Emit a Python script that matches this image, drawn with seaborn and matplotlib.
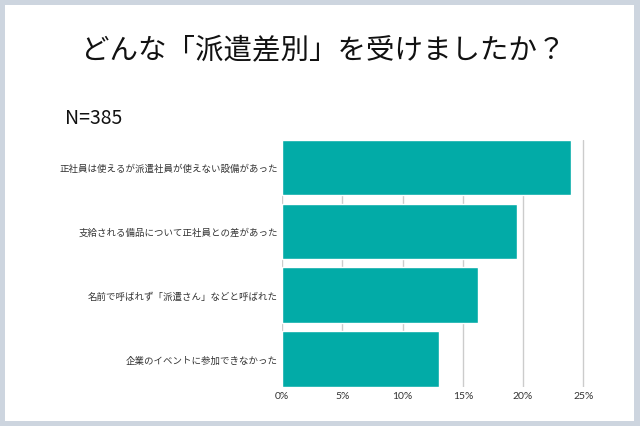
import matplotlib
matplotlib.use("Agg")
import matplotlib.pyplot as plt
import seaborn as sns
import pandas as pd
from matplotlib.patches import Rectangle

title = "どんな「派遣差別」を受けましたか？"
sample_note = "N=385"
categories = [
    "正社員は使えるが派遣社員が使えない設備があった",
    "支給される備品について正社員との差があった",
    "名前で呼ばれず「派遣さん」などと呼ばれた",
    "企業のイベントに参加できなかった",
]
shares = [24.0, 19.5, 16.25, 13.0]
x_ticks = [0, 5, 10, 15, 20, 25]
x_tick_labels = ["0%", "5%", "10%", "15%", "20%", "25%"]

sns.set_style("white")
plt.rcParams["font.family"] = ["Noto Sans CJK JP", "DejaVu Sans"]

df = pd.DataFrame({"item": categories, "share": shares})

fig = plt.figure(figsize=(6.4, 4.27), dpi=100)
fig.patch.set_facecolor("#CDD5DF")
# white card inside the grey frame
fig.patches.append(Rectangle((5 / 640, 5.5 / 427), 629 / 640, 416 / 427,
                             transform=fig.transFigure, facecolor="white",
                             edgecolor="none", zorder=0))

ax = fig.add_axes([282.3 / 640, 1 - 387.7 / 427, 302.2 / 640, 246.7 / 427])
ax.set_zorder(2)
ax.set_facecolor("none")
sns.barplot(data=df, x="share", y="item", orient="h", color="#02ABA7",
            saturation=1, width=0.87, ax=ax, zorder=3)

ax.set_xlim(0, 25.1)
ax.set_ylim(3.435, -0.435)
ax.set_xticks(x_ticks)
ax.set_xticklabels(x_tick_labels, family=["Lato", "DejaVu Sans"])
ax.tick_params(axis="x", length=0, pad=3, labelsize=7.5, labelcolor="#333333")
ax.tick_params(axis="y", length=0, pad=3, labelsize=6.8, labelcolor="#333333")
ax.set_xlabel("")
ax.set_ylabel("")
for s in ax.spines.values():
    s.set_visible(False)
ax.grid(axis="x", color="#CCCCCC", linewidth=1, zorder=0)
ax.set_axisbelow(True)

fig.text(0.505, 1 - 50 / 427, title, ha="center", va="center", fontsize=20.5,
         color="#111111", zorder=3)
fig.text(65 / 640, 1 - 118 / 427, sample_note, ha="left", va="center",
         fontsize=14, color="#111111", zorder=3)

fig.savefig("out.png", dpi=100, facecolor=fig.get_facecolor())
